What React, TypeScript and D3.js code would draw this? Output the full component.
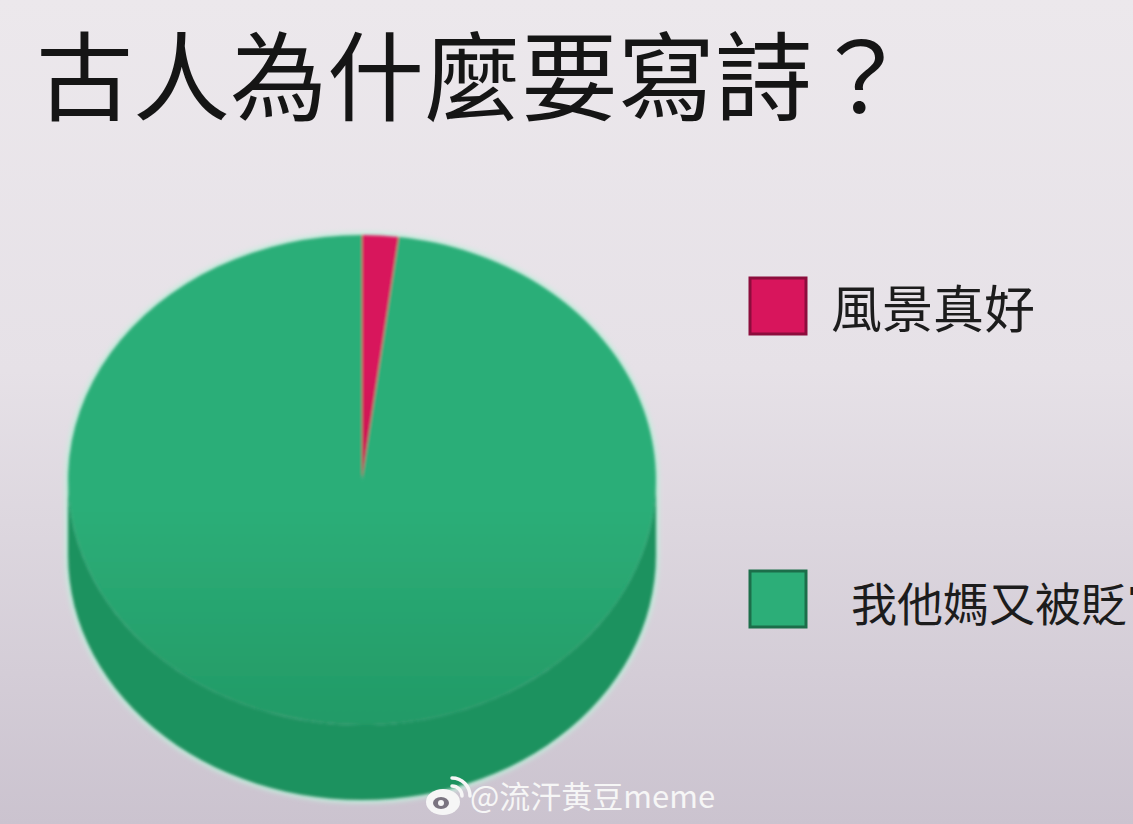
import React, { useEffect, useRef } from 'react';
import * as d3 from 'd3';

// chart data
const categories = ['風景真好', '我他媽又被貶官'];
const values = [2, 98];
const colors = ['#d8155c', '#2cae78'];
const faceBottomColors = ['#c8124f', '#229a66'];
const sideColors = ['#a80f47', '#1f925f'];
const borderColors = ['#8c0d3c', '#1c6e4a'];
const title = '古人為什麼要寫詩？';
const watermark = '@流汗黄豆meme';

const W = 1133;
const H = 824;

const App: React.FC = () => {
    const svgRef = useRef<SVGSVGElement | null>(null);

    useEffect(() => {
        document.body.style.margin = '0';
        const svg = d3.select(svgRef.current);
        svg.selectAll('*').remove();

        const defs = svg.append('defs');
        const bg = defs.append('linearGradient')
            .attr('id', 'bg').attr('x1', 0).attr('y1', 0).attr('x2', 0).attr('y2', 1);
        bg.append('stop').attr('offset', '0%').attr('stop-color', '#ece8ec');
        bg.append('stop').attr('offset', '45%').attr('stop-color', '#e6e1e7');
        bg.append('stop').attr('offset', '100%').attr('stop-color', '#cbc3cf');
        defs.append('filter').attr('id', 'soft')
            .append('feGaussianBlur').attr('stdDeviation', 1.4);
        defs.append('filter').attr('id', 'halo')
            .append('feGaussianBlur').attr('stdDeviation', 2.5);

        // vertical gradients for the top face slices
        colors.forEach((c, i) => {
            const lg = defs.append('linearGradient')
                .attr('id', `face${i}`)
                .attr('x1', 0).attr('y1', 0).attr('x2', 0).attr('y2', 1);
            lg.append('stop').attr('offset', '0%').attr('stop-color', c);
            lg.append('stop').attr('offset', '55%').attr('stop-color', c);
            lg.append('stop').attr('offset', '100%').attr('stop-color', faceBottomColors[i]);
        });

        svg.append('rect').attr('width', W).attr('height', H).attr('fill', 'url(#bg)');

        // title
        svg.append('text')
            .attr('x', 36).attr('y', 113)
            .attr('font-family', '"Noto Sans CJK TC", "Noto Sans CJK SC", sans-serif')
            .attr('font-size', 97)
            .attr('fill', '#151515')
            .text(title);

        // 3D pie
        const cx = 362, cy = 480, rx = 294, ry = 245, depth = 75;
        const pie = d3.pie<number>().sort(null)(values);
        const pt = (t: number, dy = 0): [number, number] =>
            [cx + rx * Math.sin(t), cy - ry * Math.cos(t) + dy];

        // light halo around the outline
        const outline = [
            ...d3.range(0, 121).map(k => pt(-Math.PI / 2 + Math.PI * k / 120)),
            ...d3.range(0, 121).map(k => pt(Math.PI / 2 + Math.PI * k / 120, depth)),
        ];
        svg.append('path')
            .attr('d', d3.line()(outline) + 'Z')
            .attr('fill', 'none')
            .attr('stroke', '#c4ecdc')
            .attr('stroke-width', 6)
            .attr('filter', 'url(#halo)');

        const g = svg.append('g').attr('filter', 'url(#soft)');

        // side wall (front half only)
        pie.forEach((d, i) => {
            const a = Math.max(d.startAngle, Math.PI / 2);
            const b = Math.min(d.endAngle, Math.PI * 1.5);
            if (b <= a) return;
            const ts = d3.range(0, 61).map(k => a + (b - a) * k / 60);
            const top = ts.map(t => pt(t));
            const bot = ts.slice().reverse().map(t => pt(t, depth));
            g.append('path')
                .attr('d', d3.line()([...top, ...bot]) + 'Z')
                .attr('fill', sideColors[i]);
        });

        // top face
        const arc = d3.arc<d3.PieArcDatum<number>>().innerRadius(0).outerRadius(rx);
        const face = g.append('g')
            .attr('transform', `translate(${cx},${cy}) scale(1,${ry / rx})`);
        face.selectAll('path')
            .data(pie)
            .join('path')
            .attr('d', arc)
            .attr('fill', (_, i) => `url(#face${i})`);

        // legend
        const legendY = [278, 571];
        const legendX = [831, 851];
        const legendSize = [51, 46];
        categories.forEach((c, i) => {
            svg.append('rect')
                .attr('x', 750).attr('y', legendY[i])
                .attr('width', 56).attr('height', 56)
                .attr('fill', colors[i])
                .attr('stroke', borderColors[i]).attr('stroke-width', 3);
            svg.append('text')
                .attr('x', legendX[i])
                .attr('y', legendY[i] + 50)
                .attr('font-family', '"Noto Sans CJK TC", "Noto Sans CJK SC", sans-serif')
                .attr('font-size', legendSize[i])
                .attr('fill', '#1c1c1c')
                .text(c);
        });

        // watermark with weibo-like logo
        const wm = svg.append('g').attr('fill', '#f6f6f6');
        wm.append('ellipse').attr('cx', 443).attr('cy', 802).attr('rx', 17).attr('ry', 13);
        wm.append('ellipse').attr('cx', 441).attr('cy', 803).attr('rx', 8).attr('ry', 6).attr('fill', '#7a7480');
        wm.append('circle').attr('cx', 441).attr('cy', 803).attr('r', 3);
        wm.append('path').attr('d', 'M452,786 A10,10 0 0 1 462,796')
            .attr('fill', 'none').attr('stroke', '#f6f6f6').attr('stroke-width', 3.5).attr('stroke-linecap', 'round');
        wm.append('path').attr('d', 'M452,778 A18,18 0 0 1 470,796')
            .attr('fill', 'none').attr('stroke', '#f6f6f6').attr('stroke-width', 3.5).attr('stroke-linecap', 'round');
        wm.append('text')
            .attr('x', 470).attr('y', 808)
            .attr('font-family', '"Noto Sans CJK SC", sans-serif')
            .attr('font-size', 31)
            .text(watermark);
    }, []);

    return <svg ref={svgRef} width={W} height={H} style={{ display: 'block' }} />;
};

export default App;
